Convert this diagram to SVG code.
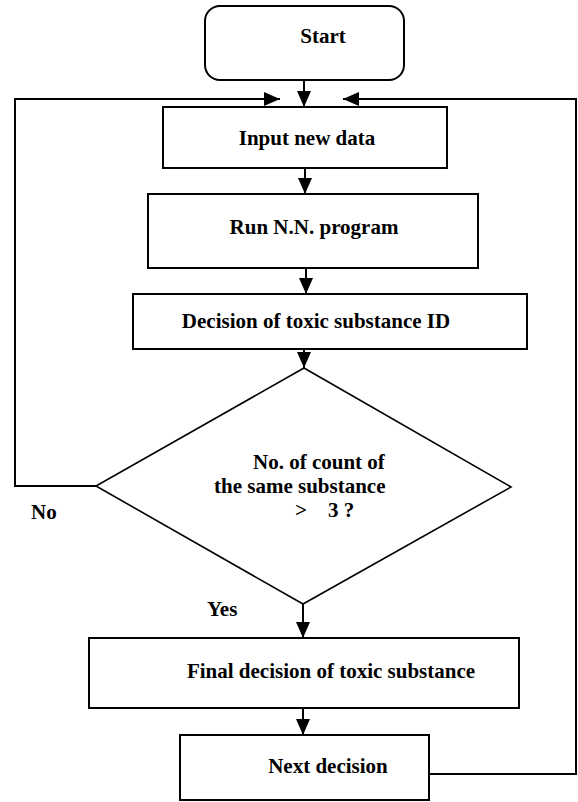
<svg xmlns="http://www.w3.org/2000/svg" width="578" height="802" viewBox="0 0 578 802">
<style>
.box{fill:#fff;stroke:#000;stroke-width:2}
.dia{fill:#fff;stroke:#000;stroke-width:1.6}
.t{font-family:"Liberation Serif","Times New Roman",serif;font-weight:bold;font-size:21px;fill:#000}
.c{text-anchor:middle}
.ln{fill:none;stroke:#000;stroke-width:2}
</style>
<defs>
<marker id="ah" viewBox="0 0 16 14" refX="16" refY="7" markerWidth="16" markerHeight="14" orient="auto" markerUnits="userSpaceOnUse">
<path d="M0,0 L16,7 L0,14 z" fill="#000"/>
</marker>
</defs>
<rect width="578" height="802" fill="#fff"/>
<g id="connectors">
<line class="ln" x1="304" y1="80" x2="304" y2="107" marker-end="url(#ah)"/>
<line class="ln" x1="305" y1="168" x2="305" y2="194" marker-end="url(#ah)"/>
<line class="ln" x1="306" y1="268" x2="306" y2="294" marker-end="url(#ah)"/>
<line class="ln" x1="304" y1="349" x2="304" y2="368" marker-end="url(#ah)"/>
<line class="ln" x1="303" y1="604" x2="303" y2="638" marker-end="url(#ah)"/>
<line class="ln" x1="303" y1="708" x2="303" y2="735" marker-end="url(#ah)"/>
<polyline class="ln" points="96,486 15,486 15,99 280,99" marker-end="url(#ah)"/>
<polyline class="ln" points="429,774 576,774 576,99 343,99" marker-end="url(#ah)"/>
<text class="t" x="31" y="519">No</text>
<text class="t" x="207" y="616">Yes</text>
</g>
<g id="start">
<rect class="box" x="205" y="6" width="199" height="74" rx="15" ry="15"/>
<text class="t c" x="323" y="43">Start</text>
</g>
<g id="input">
<rect class="box" x="163" y="107" width="284" height="61"/>
<text class="t c" x="307" y="145">Input new data</text>
</g>
<g id="run">
<rect class="box" x="148" y="194" width="330" height="74"/>
<text class="t c" x="314" y="234">Run N.N. program</text>
</g>
<g id="decision">
<rect class="box" x="133" y="294" width="394" height="55"/>
<text class="t c" x="316" y="328">Decision of toxic substance ID</text>
</g>
<g id="check">
<polygon class="dia" points="304,368 511,487 303,604 96,486"/>
<text class="t"><tspan x="253" y="469">No. of count of</tspan><tspan x="214" y="493">the same substance</tspan><tspan x="295" y="517">&gt;</tspan><tspan x="328" y="517">3 ?</tspan></text>
</g>
<g id="final">
<rect class="box" x="89" y="638" width="430" height="70"/>
<text class="t c" x="331" y="678">Final decision of toxic substance</text>
</g>
<g id="next">
<rect class="box" x="180" y="735" width="249" height="65"/>
<text class="t c" x="328" y="773">Next decision</text>
</g>
</svg>
